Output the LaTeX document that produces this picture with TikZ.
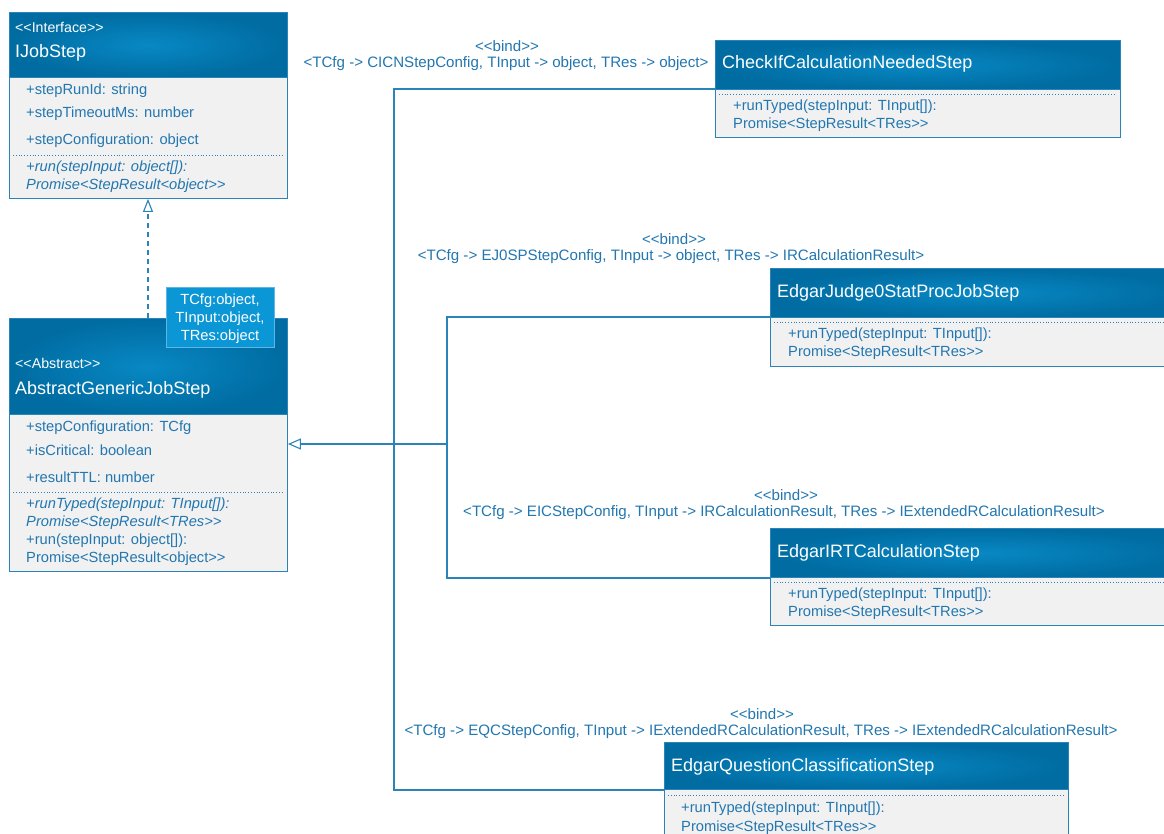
\documentclass[tikz,border=0pt]{standalone}
\usepackage{fontspec}
\setmainfont{Liberation Sans}
\usetikzlibrary{arrows.meta,shapes.geometric}
\definecolor{bord}{HTML}{2A84BA}
\definecolor{txtb}{HTML}{2277B0}
\definecolor{hdark}{HTML}{006CA1}
\definecolor{hlight}{HTML}{0888C4}
\definecolor{bodyg}{HTML}{F1F1F1}
\definecolor{tmpl}{HTML}{0B96D6}
\definecolor{tmplb}{HTML}{5DB6E4}
\tikzset{
  x=1pt, y=-1pt,
  hdr/.style={draw=bord, line width=0.9pt, shading=radial, inner color=hlight, outer color=hdark, anchor=north west, inner sep=0, rectangle},
  bdy/.style={draw=bord, line width=0.9pt, fill=bodyg, anchor=north west, inner sep=0, rectangle},
  ttl/.style={anchor=west, inner sep=0, yshift=-1pt, text=white, font=\fontsize{18}{20}\selectfont},
  ster/.style={anchor=west, inner sep=0, yshift=-1pt, text=white, font=\fontsize{14.2}{16}\selectfont},
  mem/.style={anchor=west, inner sep=0, yshift=-1.5pt, text=txtb, font=\fontsize{14.7}{17}\selectfont},
  memi/.style={mem, font=\fontsize{14.7}{17}\selectfont\itshape},
  bindl/.style={inner sep=0, yshift=-1pt, text=txtb, font=\fontsize{15.1}{17}\selectfont},
  tpl/.style={inner sep=0, yshift=-1pt, text=white, font=\fontsize{14.7}{17}\selectfont},
  sep/.style={draw=bord, dotted, line width=0.8pt},
  conn/.style={draw=bord, line width=1.1pt},
  gen/.style={conn, -{Triangle[open, length=13pt, width=11pt, line width=1.1pt]}},
  real/.style={conn, dash pattern=on 5pt off 4pt, -{Triangle[open, length=13pt, width=10pt, line width=1.1pt]}},
}
\begin{document}
\begin{tikzpicture}
\useasboundingbox (0,0) rectangle (1164,833);
\clip (0,0) rectangle (1164,833);
\fill[white] (0,0) rectangle (1164,833);

% ---------- IJobStep ----------
\node[hdr, minimum width=278pt, minimum height=65pt] (ij-h) at (9,12) {};
\node[bdy, minimum width=278pt, minimum height=121pt] (ij-b) at (9,77) {};
\node[ster] (ij-s) at (15,26) {<{}<Interface>{}>};
\node[ttl] (ij-t) at (15,52) {IJobStep};
\node[mem] (ij-a1) at (26,89) {+stepRunId: string};
\node[mem] (ij-a2) at (26,112) {+stepTimeoutMs: number};
\node[mem] (ij-a3) at (26,139) {+stepConfiguration: object};
\draw[sep] (13,155) -- (283,155);
\node[memi] (ij-m1) at (26,166) {+run(stepInput: object[]):};
\node[memi] (ij-m2) at (26,184) {Promise<StepResult<object>{}>};

% ---------- AbstractGenericJobStep ----------
\node[hdr, minimum width=278pt, minimum height=96pt] (ag-h) at (9,318) {};
\node[bdy, minimum width=278pt, minimum height=157pt] (ag-b) at (9,414) {};
\node[ster] (ag-s) at (15,362) {<{}<Abstract>{}>};
\node[ttl] (ag-t) at (15,389) {AbstractGenericJobStep};
\node[mem] (ag-a1) at (26,426) {+stepConfiguration: TCfg};
\node[mem] (ag-a2) at (26,449) {+isCritical: boolean};
\node[mem] (ag-a3) at (26,476) {+resultTTL: number};
\draw[sep] (13,492) -- (283,492);
\node[memi] (ag-m1) at (26,503) {+runTyped(stepInput: TInput[]):};
\node[memi] (ag-m2) at (26,521) {Promise<StepResult<TRes>{}>};
\node[mem] (ag-m3) at (26,539) {+run(stepInput: object[]):};
\node[mem] (ag-m4) at (26,557) {Promise<StepResult<object>{}>};
% template parameters
\node[draw=tmplb, fill=tmpl, line width=0.9pt, anchor=north west, minimum width=108pt, minimum height=60pt, inner sep=0] (ag-tp) at (166,287) {};
\node[tpl] (ag-tp1) at (220,300) {TCfg:object,};
\node[tpl] (ag-tp2) at (220,318) {TInput:object,};
\node[tpl] (ag-tp3) at (220,336) {TRes:object};

% ---------- CheckIfCalculationNeededStep ----------
\node[hdr, minimum width=405pt, minimum height=49pt] (cc-h) at (715,40) {};
\node[bdy, minimum width=405pt, minimum height=48pt] (cc-b) at (715,89) {};
\node[ttl] (cc-t) at (722,63) {CheckIfCalculationNeededStep};
\draw[sep] (719,94) -- (1116,94);
\node[mem] (cc-m1) at (733,105) {+runTyped(stepInput: TInput[]):};
\node[mem] (cc-m2) at (733,123) {Promise<StepResult<TRes>{}>};

% ---------- EdgarJudge0StatProcJobStep ----------
\node[hdr, minimum width=420pt, minimum height=49pt] (jd-h) at (770,268) {};
\node[bdy, minimum width=420pt, minimum height=49pt] (jd-b) at (770,317) {};
\node[ttl] (jd-t) at (777,292) {EdgarJudge0StatProcJobStep};
\draw[sep] (774,322) -- (1170,322);
\node[mem] (jd-m1) at (788,333) {+runTyped(stepInput: TInput[]):};
\node[mem] (jd-m2) at (788,351) {Promise<StepResult<TRes>{}>};

% ---------- EdgarIRTCalculationStep ----------
\node[hdr, minimum width=420pt, minimum height=49pt] (ir-h) at (770,528) {};
\node[bdy, minimum width=420pt, minimum height=48pt] (ir-b) at (770,577) {};
\node[ttl] (ir-t) at (777,552) {EdgarIRTCalculationStep};
\draw[sep] (774,582) -- (1170,582);
\node[mem] (ir-m1) at (788,593) {+runTyped(stepInput: TInput[]):};
\node[mem] (ir-m2) at (788,611) {Promise<StepResult<TRes>{}>};

% ---------- EdgarQuestionClassificationStep ----------
\node[hdr, minimum width=404pt, minimum height=47pt] (eq-h) at (664,742) {};
\node[bdy, minimum width=404pt, minimum height=70pt] (eq-b) at (664,789) {};
\node[ttl] (eq-t) at (671,766) {EdgarQuestionClassificationStep};
\draw[sep] (668,795) -- (1064,795);
\node[mem] (eq-m1) at (681,807) {+runTyped(stepInput: TInput[]):};
\node[mem] (eq-m2) at (681,826) {Promise<StepResult<TRes>{}>};

% ---------- bind labels ----------
\node[bindl] (b1s) at (507,45) {<{}<bind>{}>};
\node[bindl] (b1) at (506,63) {<TCfg -> CICNStepConfig, TInput -> object, TRes -> object>};
\node[bindl] (b2s) at (674,238) {<{}<bind>{}>};
\node[bindl] (b2) at (671,256) {<TCfg -> EJ0SPStepConfig, TInput -> object, TRes -> IRCalculationResult>};
\node[bindl] (b3s) at (786,494) {<{}<bind>{}>};
\node[bindl] (b3) at (784,512) {<TCfg -> EICStepConfig, TInput -> IRCalculationResult, TRes -> IExtendedRCalculationResult>};
\node[bindl] (b4s) at (762,713) {<{}<bind>{}>};
\node[bindl] (b4) at (761,731) {<TCfg -> EQCStepConfig, TInput -> IExtendedRCalculationResult, TRes -> IExtendedRCalculationResult>};

% ---------- connectors ----------
\coordinate (busA) at (394,444);
\coordinate (busB) at (447,444);
\draw[conn] (cc-b.north west) -| (busA);
\draw[conn] ([yshift=-1pt]eq-b.north west) -| (busA);
\draw[conn] (jd-b.north west) -| (busB);
\draw[conn] ([yshift=-1pt]ir-b.north west) -| (busB);
\draw[gen] (busB) -- (busB -| ag-b.east);
\draw[real] ([xshift=139pt]ag-h.north west) -- ([xshift=139pt]ij-b.south west);
\end{tikzpicture}
\end{document}
